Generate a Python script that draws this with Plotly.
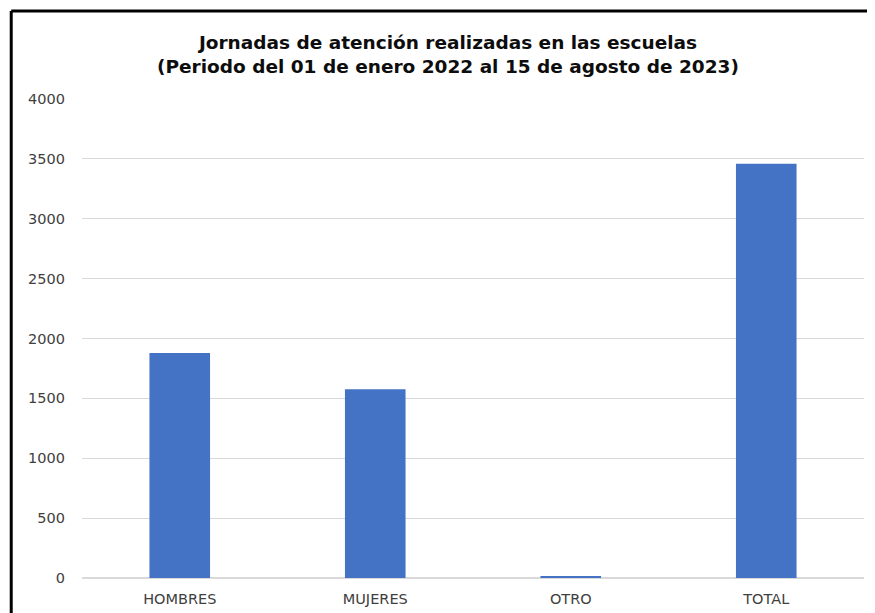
import plotly.graph_objects as go

categorias = ['HOMBRES', 'MUJERES', 'OTRO', 'TOTAL']
jornadas = [1878, 1576, 10, 3460]
ticks_y = [0, 500, 1000, 1500, 2000, 2500, 3000, 3500, 4000]

fig = go.Figure()

fig.add_trace(
    go.Bar(
        x=categorias,
        y=jornadas,
        marker=dict(color='#4472C4', line=dict(width=0)),
        showlegend=False,
    )
)

# la pagina tiene 8px de margen en el body
fig.update_layout(
    width=867,
    height=605,
    margin=dict(l=74, r=11, t=91, b=35),
    paper_bgcolor='white',
    plot_bgcolor='white',
    bargap=0.69,
    title=dict(
        text='<b>Jornadas de atención realizadas en las escuelas<br>(Periodo del 01 de enero 2022 al 15 de agosto de 2023)</b>',
        x=0.5075,
        xanchor='center',
        y=0.933,
        yanchor='top',
        font=dict(family='DejaVu Sans', size=18.5, color='#0d0d0d'),
    ),
    font=dict(family='DejaVu Sans', size=14.5, color='#404040'),
)

fig.update_yaxes(
    range=[0, 4000],
    tickvals=ticks_y,
    showgrid=True,
    gridcolor='#d9d9d9',
    gridwidth=1,
    zeroline=True,
    zerolinecolor='#d9d9d9',
    showline=False,
    automargin=False,
    ticklabelstandoff=16,
    tickfont=dict(size=14.5, color='#404040'),
)

fig.update_xaxes(
    showgrid=False,
    showline=False,
    automargin=False,
    ticklabelstandoff=10,
    tickfont=dict(size=14.5, color='#404040'),
)

# marco negro (borde izquierdo y superior de la imagen original)
borde = dict(color='black', width=3)
fig.add_shape(type='line', xref='paper', yref='paper',
              x0=-0.0905, x1=-0.0905, y0=1.1837, y1=-0.1, line=borde)
fig.add_shape(type='line', xref='paper', yref='paper',
              x0=-0.0905, x1=1.05, y0=1.1837, y1=1.1837, line=borde)

fig.write_html("out.html")
